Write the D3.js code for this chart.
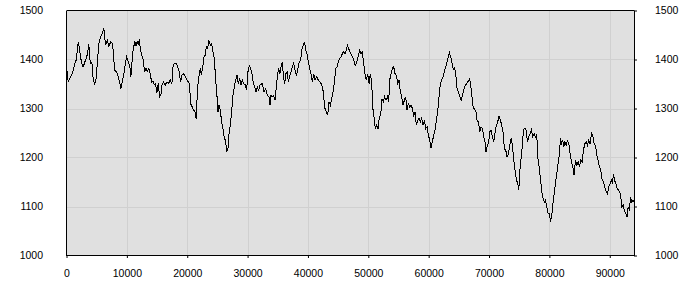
<!DOCTYPE html>
<html>
<head>
<meta charset="utf-8">
<script src="https://cdn.jsdelivr.net/npm/d3@7"></script>
<style>
  html, body { margin: 0; padding: 0; background: #fff; }
  svg { display: block; }
  .tick text { font-family: "Liberation Sans", Arial, sans-serif; font-size: 10.5px; fill: #000; }
</style>
</head>
<body>
<svg id="chart" width="700" height="300"></svg>
<script>
// tick values for the two axes
const xTicks = [0, 10000, 20000, 30000, 40000, 50000, 60000, 70000, 80000, 90000]
const yTicks = [1000, 1100, 1200, 1300, 1400, 1500]
const xMax = 94100

// series as [step, level]
const trace = [
  [0,1385],[281,1354],[503,1361],[834,1368],[1110,1378],[1387,1392],[1608,1399],[1939,1436],[2160,1422],[2326,1405],
  [2602,1388],[2768,1385],[3044,1395],[3265,1402],[3486,1412],[3707,1431],[3873,1399],[4039,1392],[4204,1395],[4370,1365],
  [4646,1348],[4923,1361],[5144,1399],[5365,1433],[5641,1446],[5917,1453],[6193,1463],[6470,1429],[6746,1439],[7022,1426],
  [7299,1436],[7575,1433],[7740,1419],[7961,1378],[8237,1375],[8514,1368],[8790,1354],[9011,1341],[9232,1354],[9508,1371],
  [9785,1395],[9950,1405],[10227,1395],[10503,1385],[10669,1365],[10835,1392],[11055,1422],[11332,1436],[11553,1427],[11718,1438],
  [11884,1429],[12050,1441],[12271,1419],[12547,1405],[12713,1399],[12934,1375],[13155,1382],[13376,1375],[13652,1382],[13873,1371],
  [14094,1354],[14315,1356],[14536,1348],[14757,1351],[14978,1331],[15199,1351],[15420,1324],[15641,1327],[15807,1348],[16084,1354],
  [16360,1348],[16636,1354],[16912,1351],[17189,1358],[17465,1351],[17631,1385],[17852,1392],[18183,1392],[18404,1385],[18680,1375],
  [18901,1354],[19122,1368],[19399,1371],[19675,1365],[19951,1358],[20227,1354],[20393,1348],[20559,1310],[20835,1303],[21056,1297],
  [21277,1293],[21498,1278],[21609,1314],[21774,1348],[21995,1371],[22161,1382],[22327,1368],[22548,1382],[22769,1405],[22990,1409],
  [23156,1426],[23377,1422],[23598,1439],[23819,1429],[24040,1433],[24261,1416],[24482,1402],[24703,1361],[24924,1327],[25090,1293],
  [25255,1307],[25476,1297],[25697,1273],[25918,1259],[26139,1239],[26360,1235],[26526,1211],[26747,1218],[26913,1246],[27134,1266],
  [27355,1293],[27576,1327],[27797,1344],[28018,1358],[28239,1368],[28460,1351],[28681,1361],[28902,1348],[29123,1358],[29344,1351],
  [29620,1348],[29841,1337],[30062,1375],[30283,1388],[30504,1382],[30725,1371],[30946,1351],[31167,1344],[31388,1334],[31609,1344],
  [31830,1337],[32050,1348],[32437,1351],[32713,1334],[32990,1341],[33266,1327],[33542,1324],[33708,1307],[33874,1327],[34095,1324],
  [34316,1327],[34537,1317],[34702,1337],[34923,1365],[35144,1382],[35365,1371],[35531,1385],[35752,1395],[35918,1368],[36139,1351],
  [36360,1371],[36581,1375],[36747,1354],[36968,1365],[37189,1375],[37410,1385],[37631,1392],[37852,1378],[38073,1368],[38294,1378],
  [38515,1392],[38791,1399],[39012,1422],[39233,1429],[39454,1436],[39620,1419],[39841,1412],[40062,1395],[40283,1382],[40504,1371],
  [40725,1354],[40946,1371],[41167,1358],[41443,1365],[41719,1358],[42051,1354],[42272,1348],[42493,1337],[42658,1317],[42824,1300],
  [43045,1293],[43266,1286],[43487,1313],[43708,1307],[43929,1320],[44150,1334],[44371,1351],[44592,1382],[44813,1385],[45034,1395],
  [45255,1402],[45476,1405],[45697,1412],[45918,1416],[46139,1412],[46360,1419],[46526,1429],[46747,1422],[46968,1416],[47244,1409],
  [47520,1402],[47797,1388],[48018,1392],[48294,1405],[48571,1419],[48792,1412],[49013,1416],[49234,1392],[49455,1371],[49676,1358],
  [49897,1371],[50118,1351],[50339,1371],[50560,1354],[50725,1303],[50946,1283],[51167,1259],[51388,1266],[51609,1259],[51830,1283],
  [52051,1286],[52272,1320],[52493,1314],[52714,1324],[52935,1317],[53156,1324],[53377,1314],[53543,1358],[53764,1371],[53985,1382],
  [54206,1385],[54427,1371],[54648,1368],[54869,1351],[55090,1358],[55311,1334],[55532,1324],[55753,1307],[55974,1317],[56195,1324],
  [56416,1297],[56637,1310],[56858,1303],[57079,1307],[57300,1300],[57521,1286],[57742,1293],[57963,1266],[58184,1276],[58405,1280],
  [58626,1273],[58847,1280],[59068,1266],[59289,1276],[59510,1259],[59731,1263],[59952,1246],[60173,1235],[60394,1220],[60615,1232],
  [60836,1246],[61057,1256],[61278,1276],[61499,1293],[61720,1324],[61941,1351],[62162,1358],[62383,1365],[62604,1375],[62825,1385],
  [63046,1395],[63267,1405],[63433,1414],[63654,1405],[63874,1392],[64096,1378],[64262,1385],[64483,1371],[64709,1341],[65372,1317],
  [65803,1337],[65919,1344],[66466,1354],[66798,1360],[67030,1341],[67361,1303],[67852,1293],[68018,1276],[68239,1273],[68460,1252],
  [68681,1262],[68902,1259],[69123,1242],[69344,1232],[69510,1211],[69731,1225],[69952,1232],[70118,1252],[70339,1256],[70560,1242],
  [70781,1232],[71002,1252],[71223,1266],[71444,1273],[71665,1285],[71886,1276],[72107,1266],[72328,1252],[72549,1218],[72770,1215],
  [72991,1201],[73212,1208],[73433,1225],[73654,1239],[73875,1225],[74096,1194],[74317,1174],[74538,1154],[74759,1147],[74924,1133],
  [75090,1171],[75311,1198],[75532,1225],[75698,1256],[75919,1260],[76140,1256],[76361,1232],[76582,1242],[76803,1249],[77024,1256],
  [77245,1242],[77466,1249],[77687,1242],[77908,1247],[78073,1201],[78294,1181],[78515,1157],[78736,1130],[78958,1116],[79179,1109],
  [79345,1113],[79566,1099],[79787,1086],[80007,1086],[80173,1069],[80394,1082],[80615,1109],[80726,1120],[81002,1147],[81223,1167],
  [81444,1188],[81665,1208],[81831,1239],[81996,1228],[82217,1235],[82383,1222],[82549,1232],[82770,1225],[82991,1234],[83212,1229],
  [83433,1208],[83654,1191],[83874,1181],[84096,1164],[84317,1194],[84538,1184],[84759,1191],[84980,1181],[85201,1194],[85422,1191],
  [85643,1215],[85864,1228],[86085,1232],[86306,1225],[86527,1235],[86748,1228],[86969,1250],[87190,1245],[87411,1228],[87632,1225],
  [87853,1205],[88074,1194],[88295,1181],[88516,1174],[88737,1154],[88958,1150],[89179,1140],[89400,1130],[89621,1126],[89842,1140],
  [90063,1147],[90284,1154],[90450,1147],[90615,1167],[90781,1154],[91002,1147],[91223,1137],[91444,1133],[91665,1130],[91831,1120],
  [91996,1099],[92217,1103],[92438,1092],[92659,1086],[92880,1079],[93046,1099],[93267,1092],[93432,1120],[93653,1109],[93874,1113],
  [94096,1109]
]

const width = 700, height = 300
const margin = { top: 10, right: 66, bottom: 45, left: 66 }
const iw = width - margin.left - margin.right
const ih = height - margin.top - margin.bottom

const svg = d3.select("#chart")
const g = svg.append("g").attr("transform", `translate(${margin.left},${margin.top})`)

const x = d3.scaleLinear().domain([0, xMax]).range([0.5, iw + 0.5])
const y = d3.scaleLinear().domain([1000, 1500]).range([ih + 0.5, 0.5])

// plot background
g.append("rect")
  .attr("x", 0.5).attr("y", 0.5)
  .attr("width", iw).attr("height", ih)
  .attr("fill", "#e0e0e0")

// grid
g.append("g")
  .selectAll("line.v")
  .data(xTicks.slice(1))
  .join("line")
  .attr("x1", d => Math.round(x(d)) + 0.5).attr("x2", d => Math.round(x(d)) + 0.5)
  .attr("y1", 0).attr("y2", ih)
  .attr("stroke", "#d0d0d0")

g.append("g")
  .selectAll("line.h")
  .data(yTicks.slice(1, -1))
  .join("line")
  .attr("y1", d => Math.round(y(d)) + 0.5).attr("y2", d => Math.round(y(d)) + 0.5)
  .attr("x1", 0).attr("x2", iw)
  .attr("stroke", "#d0d0d0")

// the series
g.append("path")
  .datum(trace)
  .attr("fill", "none")
  .attr("stroke", "#000")
  .attr("stroke-width", 1)
  .attr("shape-rendering", "crispEdges")
  .attr("d", d3.line().x(d => x(d[0])).y(d => y(d[1])))

// frame top
g.append("line")
  .attr("x1", 0.5).attr("x2", iw + 0.5)
  .attr("y1", 0.5).attr("y2", 0.5)
  .attr("stroke", "#000")

// axes
const xAxis = g.append("g")
  .attr("transform", `translate(0,${ih})`)
  .call(d3.axisBottom(x).tickValues(xTicks).tickFormat(d3.format("d")).tickSizeInner(3).tickSizeOuter(0).tickPadding(12))

const yLeft = g.append("g")
  .call(d3.axisLeft(y).tickValues(yTicks).tickFormat(d3.format("d")).tickSize(0).tickPadding(23))

const yRight = g.append("g")
  .attr("transform", `translate(${iw},0)`)
  .call(d3.axisRight(y).tickValues(yTicks).tickFormat(d3.format("d")).tickSizeInner(3).tickSizeOuter(0).tickPadding(18))

svg.selectAll(".domain").attr("stroke", "#000")
svg.selectAll(".tick line").attr("stroke", "#000")
</script>
</body>
</html>
